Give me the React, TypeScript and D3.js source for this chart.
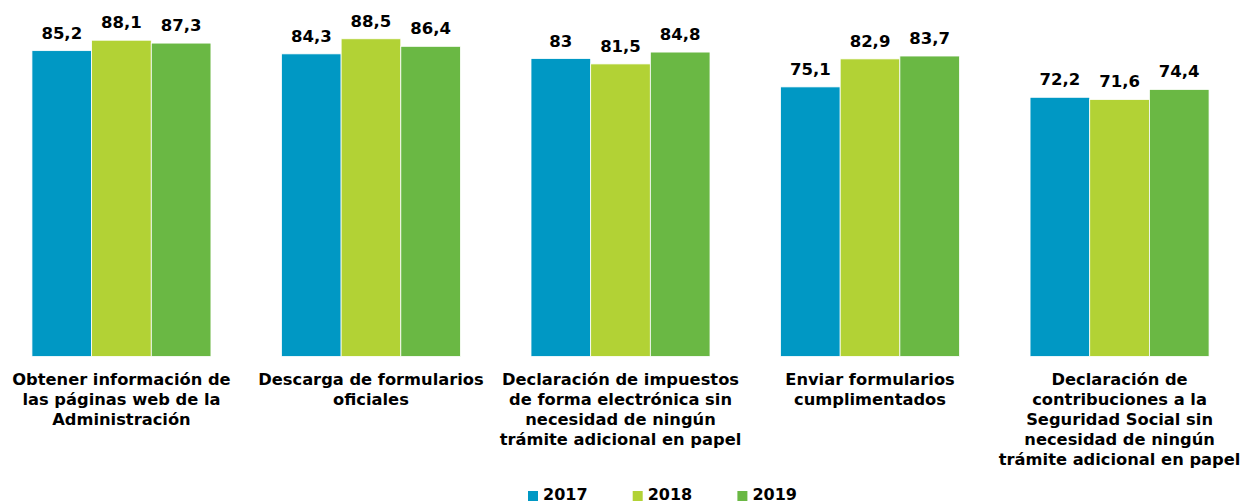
import React from "react";
import * as d3 from "d3";

const categories = [
  "Obtener información de las páginas web de la Administración",
  "Descarga de formularios oficiales",
  "Declaración de impuestos de forma electrónica sin necesidad de ningún trámite adicional en papel",
  "Enviar formularios cumplimentados",
  "Declaración de contribuciones a la Seguridad Social sin necesidad de ningún trámite adicional en papel",
];
const categoryLines = [
  ["Obtener información de", "las páginas web de la", "Administración"],
  ["Descarga de formularios", "oficiales"],
  ["Declaración de impuestos", "de forma electrónica sin", "necesidad de ningún", "trámite adicional en papel"],
  ["Enviar formularios", "cumplimentados"],
  ["Declaración de", "contribuciones a la", "Seguridad Social sin", "necesidad de ningún", "trámite adicional en papel"],
];
const seriesNames = ["2017", "2018", "2019"];
const values2017 = [85.2, 84.3, 83, 75.1, 72.2];
const values2018 = [88.1, 88.5, 81.5, 82.9, 71.6];
const values2019 = [87.3, 86.4, 84.8, 83.7, 74.4];
const seriesValues = [values2017, values2018, values2019];
const colors = ["#0098C4", "#B2D235", "#6AB844"];

const W = 1241;
const H = 504;
const FONT = "'DejaVu Sans', Verdana, sans-serif";

export default function App() {
  const x = d3.scaleBand<string>().domain(categories).range([0, W]).paddingInner(0.2826).paddingOuter(0.128);
  const xs = d3.scaleBand<string>().domain(seriesNames).range([0, x.bandwidth()]);
  const y = d3.scaleLinear().domain([0, 100]).range([356.5, -2.5]);
  const fmt = (v: number) => String(v).replace(".", ",");

  return (
    <svg width={W} height={H} style={{ position: "absolute", left: 0, top: 0 }} fontFamily={FONT}>
      <rect width={W} height={H} fill="#fff" />
      {categories.map((c, i) => (
        <g key={c} transform={`translate(${x(c)},0)`}>
          {seriesNames.map((s, j) => {
            const v = seriesValues[j][i];
            const bx = xs(s)!;
            return (
              <g key={s}>
                <rect x={bx} y={y(v)} width={xs.bandwidth()} height={y(0) - y(v)} fill={colors[j]} stroke="#fff" strokeWidth={0.8} />
                <text x={bx + xs.bandwidth() / 2} y={y(v) - 12} textAnchor="middle" fontSize={16.5} fontWeight="bold" fill="#000">
                  {fmt(v)}
                </text>
              </g>
            );
          })}
          {categoryLines[i].map((line, k) => (
            <text key={k} x={x.bandwidth() / 2} y={385 + k * 20} textAnchor="middle" fontSize={16.3} fontWeight="bold" fill="#000">
              {line}
            </text>
          ))}
        </g>
      ))}
      {seriesNames.map((s, j) => (
        <g key={s} transform={`translate(${528 + j * 104.7},0)`}>
          <rect x={0} y={491} width={10} height={10} fill={colors[j]} />
          <text x={15} y={500} fontSize={16} fontWeight="bold" fill="#000">{s}</text>
        </g>
      ))}
    </svg>
  );
}
